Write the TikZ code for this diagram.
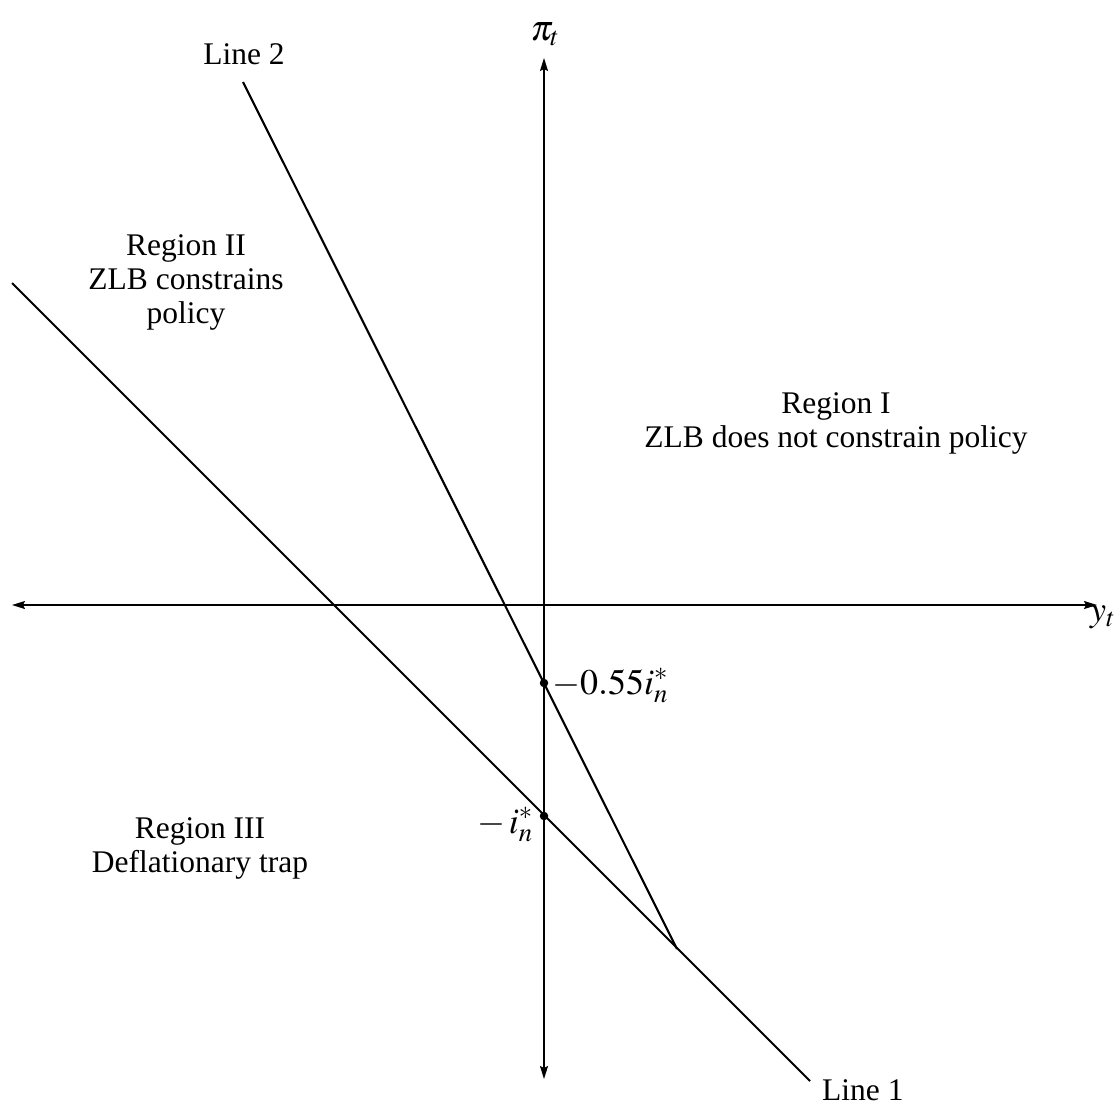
\documentclass[tikz,border=0pt]{standalone}
\usepackage{mathptmx}
\usepackage{fontspec}
\setmainfont{Liberation Serif}
\usetikzlibrary{arrows.meta}
\begin{document}
\begin{tikzpicture}[x=1pt,y=-1pt,
  lbl/.style={font=\fontsize{31.5}{34}\selectfont, inner sep=0pt},
  mlbl/.style={font=\fontsize{36}{40}\selectfont, inner sep=0pt},
  curve/.style={line width=2.1pt},
  axis/.style={line width=1.5pt, {Stealth[length=13pt,width=8pt,inset=2pt]}-{Stealth[length=13pt,width=8pt,inset=2pt]}},
  pt/.style={circle, fill=black, inner sep=0pt, minimum size=8.5pt}]
\useasboundingbox (0,0) rectangle (1115,1106);
% axes
\coordinate (yt) at (544,58);
\coordinate (yb) at (544,1079);
\coordinate (xl) at (12,605);
\coordinate (xr) at (1097,605);
\draw[axis] (yb) -- (yt);
\draw[axis] (xl) -- (xr);
\node[mlbl, anchor=base] (pil) at (545,40) {$\pi_t$};
\node[mlbl, anchor=base west] (yl) at (1090,621) {$y_t$};
% lines
\coordinate (L1s) at (12,283);
\coordinate (L1e) at (810,1081);
\coordinate (L2s) at (243,82);
\coordinate (K) at (677,949);
\draw[curve] (L1s) -- (L1e);
\draw[curve] (L2s) -- (K);
\node[pt] (A) at (544,683) {};
\node[pt] (B) at (544,816) {};
\node[mlbl, anchor=base west] (Al) at (552,694) {$-0.55i_n^*$};
\node[mlbl, anchor=base east] (Bl) at (533,833) {$-\,i_n^*$};
% labels
\node[lbl, anchor=base] (l2) at (244,64) {Line 2};
\node[lbl, anchor=base west] (l1) at (822,1100) {Line 1};
\node[lbl, anchor=base] (r1a) at (836,413) {Region I};
\node[lbl, anchor=base] (r1b) at (836,447) {ZLB does not constrain policy};
\node[lbl, anchor=base] (r2a) at (186,255) {Region II};
\node[lbl, anchor=base] (r2b) at (186,289) {ZLB constrains};
\node[lbl, anchor=base] (r2c) at (186,323) {policy};
\node[lbl, anchor=base] (r3a) at (200,838) {Region III};
\node[lbl, anchor=base] (r3b) at (200,872) {Deflationary trap};
\end{tikzpicture}
\end{document}
